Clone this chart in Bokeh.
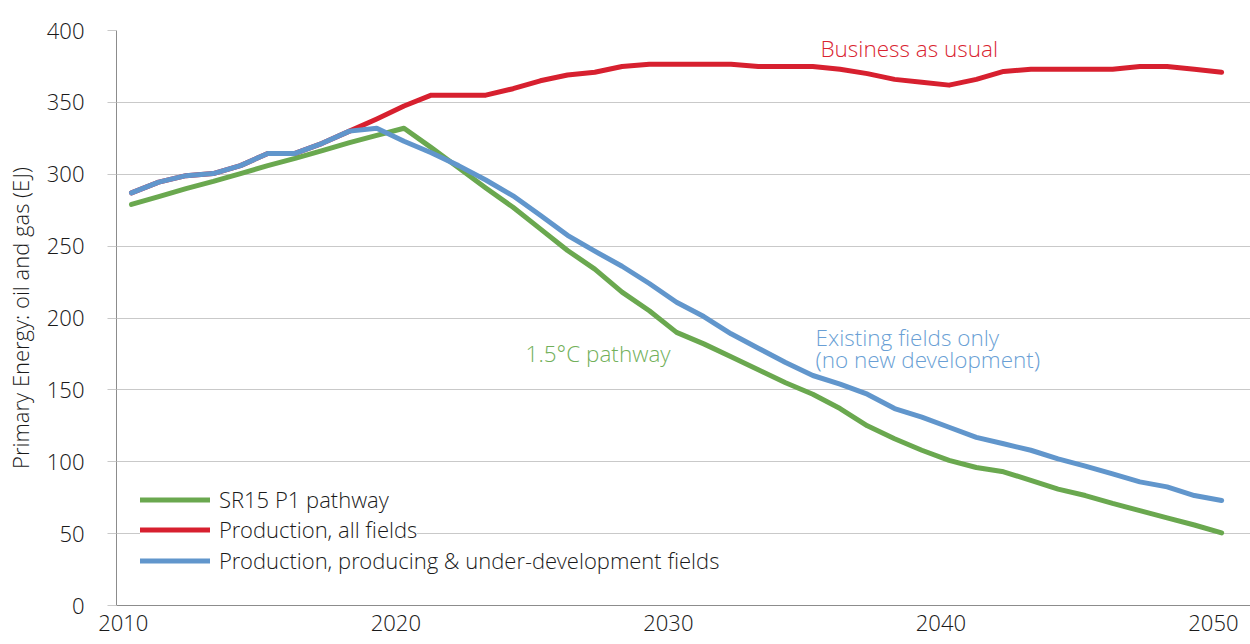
from bokeh.plotting import figure
from bokeh.models import Range1d, FixedTicker, Legend, LegendItem, ColumnDataSource
from bokeh.core.properties import value
from bokeh.embed import file_html
from bokeh.resources import INLINE

# ---------------- data ----------------
years = list(range(2010, 2051))

sr15_p1 = [279, 284.5, 290, 295, 300.5, 306, 311, 316.5, 322, 327,
           332, 318.5, 304.5, 290.5, 277, 262, 247, 234, 218, 205,
           190, 182, 173, 164, 155, 147, 137, 125, 116, 108,
           101, 96, 93, 87, 81, 76.5, 71, 66, 61, 56, 50.5]

all_fields = [287, 294.5, 299, 300.5, 306, 314.5, 314.5, 321.5, 330, 338.5,
              347.5, 355, 355, 355, 359.5, 365, 369, 371, 375, 376.5,
              376.5, 376.5, 376.5, 375, 375, 375, 373, 370, 366, 364,
              362, 366, 371.5, 373, 373, 373, 373, 375, 375, 373, 371]

existing_fields = [287, 294.5, 299, 300.5, 306, 314.5, 314.5, 321.5, 330, 332,
                   323, 315, 306, 296, 285, 271.5, 257.5, 246.5, 236, 224,
                   211, 201, 189, 179, 169, 160, 154, 147, 137, 131,
                   124, 117, 112.5, 108, 102, 97, 91.5, 86, 82.5, 76.5, 73]

series_names = ["SR15 P1 pathway", "Production, all fields",
                "Production, producing & under-development fields"]

y_ticks = [0, 50, 100, 150, 200, 250, 300, 350, 400]
x_tick_labels = ["2010", "2020", "2030", "2040", "2050"]
x_tick_pos = [2009.7, 2019.7, 2029.7, 2039.7, 2049.7]

annot_text = ["Business as usual", "1.5°C pathway", "Existing fields only", "(no new development)"]
annot_x = [2035.28, 2024.46, 2035.1, 2035.1]
annot_y = [387.5, 175.3, 186.4, 171.1]
annot_color = ["#d9232f", "#72b05a", "#6a9fd5", "#6a9fd5"]

# ---------------- style ----------------
GREEN = "#6aa84f"
RED = "#d7202f"
BLUE = "#6196cc"
FONT = "Open Sans Light"
FS = "22px"
FS_TXT = "22.5px"
TXT = "#1a1a1a"

p = figure(width=1250, height=644, output_backend="svg", toolbar_location=None,
           x_range=Range1d(2009.45, 2051.06), y_range=Range1d(0, 400),
           min_border_left=116, min_border_top=30, min_border_right=0,
           min_border_bottom=39)
p.outline_line_color = None
p.background_fill_color = "white"
p.border_fill_color = "white"

src = ColumnDataSource(dict(year=years, green=sr15_p1, red=all_fields, blue=existing_fields))
r_green = p.line("year", "green", source=src, line_color=GREEN, line_width=5,
                 line_join="round", line_cap="round")
r_red = p.line("year", "red", source=src, line_color=RED, line_width=5,
               line_join="round", line_cap="round")
r_blue = p.line("year", "blue", source=src, line_color=BLUE, line_width=5,
                line_join="round", line_cap="round")

# annotations
p.text(x=annot_x, y=annot_y, text=annot_text, text_color=annot_color,
       text_font=value(FONT), text_font_size=FS_TXT, text_baseline="middle", text_align="left")

# axes
p.xgrid.grid_line_color = None
p.ygrid.grid_line_color = "#c9c9c9"
p.ygrid.grid_line_width = 1
p.yaxis.ticker = FixedTicker(ticks=y_ticks)
p.yaxis.axis_line_color = "#8c8c8c"
p.yaxis.major_tick_in = 0
p.yaxis.major_tick_out = 9
p.yaxis.major_tick_line_color = "#c9c9c9"
p.yaxis.minor_tick_line_color = None
p.yaxis.major_label_standoff = 23
p.yaxis.major_label_text_font = FONT
p.yaxis.major_label_text_font_size = FS
p.yaxis.major_label_text_color = TXT
p.yaxis.axis_label = "Primary Energy: oil and gas (EJ)"
p.yaxis.axis_label_text_font = FONT
p.yaxis.axis_label_text_font_size = FS
p.yaxis.axis_label_text_font_style = "normal"
p.yaxis.axis_label_text_color = TXT
p.yaxis.axis_label_standoff = 9

p.xaxis.ticker = FixedTicker(ticks=x_tick_pos)
p.xaxis.major_label_overrides = dict(zip(x_tick_pos, x_tick_labels))
p.xaxis.axis_line_color = "#8c8c8c"
p.xaxis.major_tick_in = 0
p.xaxis.major_tick_out = 0
p.xaxis.minor_tick_line_color = None
p.xaxis.major_label_standoff = 9
p.xaxis.major_label_text_font = FONT
p.xaxis.major_label_text_font_size = FS
p.xaxis.major_label_text_color = TXT


def style_legend(lg, fill_alpha):
    lg.label_text_font = FONT
    lg.label_text_font_size = FS
    lg.label_text_color = TXT
    lg.glyph_width = 70
    lg.glyph_height = 27
    lg.label_height = 27
    lg.label_standoff = 9
    lg.spacing = 0
    lg.padding = 10
    lg.margin = 0
    lg.border_line_color = None
    lg.background_fill_color = "white"
    lg.background_fill_alpha = fill_alpha


# first two entries sit in a white box (hides the 50 gridline behind them)
legend_a = Legend(items=[LegendItem(label=series_names[0], renderers=[r_green]),
                         LegendItem(label=series_names[1], renderers=[r_red])],
                  location=(24, 61))
style_legend(legend_a, 1.0)
# last entry has no box
legend_b = Legend(items=[LegendItem(label=series_names[2], renderers=[r_blue])],
                  location=(24, 30))
style_legend(legend_b, 0.0)
p.add_layout(legend_a)
p.add_layout(legend_b)

open("out.html", "w").write(file_html(p, INLINE))
